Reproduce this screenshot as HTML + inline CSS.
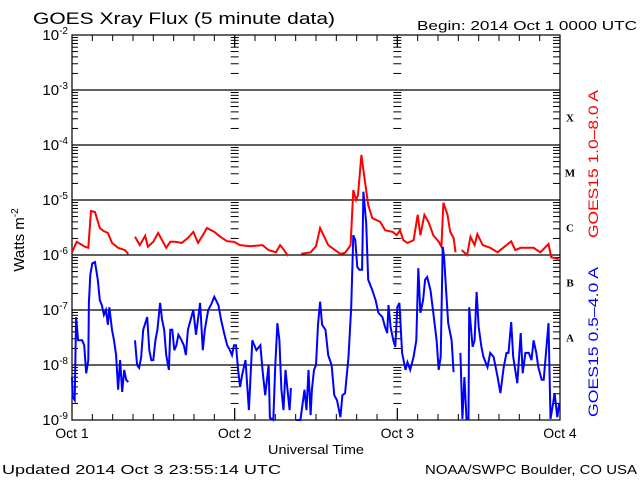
<!DOCTYPE html>
<html><head><meta charset="utf-8"><style>
html,body{margin:0;padding:0;background:#fff;}
svg{display:block;font-family:"Liberation Sans",sans-serif;}
</style></head><body>
<svg id="chart" width="640" height="480" viewBox="0 0 640 480" xmlns="http://www.w3.org/2000/svg">
<rect width="640" height="480" fill="#fff"/>
<text x="33" y="24" font-size="17" fill="#000" textLength="302" lengthAdjust="spacingAndGlyphs">GOES Xray Flux (5 minute data)</text>
<text x="417" y="30" font-size="13" fill="#000" textLength="220" lengthAdjust="spacingAndGlyphs">Begin:  2014 Oct 1 0000 UTC</text>
<text transform="translate(24,240) rotate(-90)" font-size="15" text-anchor="middle" fill="#000">Watts m<tspan font-size="10" dy="-6">-2</tspan></text>
<text x="268" y="454" font-size="13" fill="#000" textLength="96" lengthAdjust="spacingAndGlyphs">Universal Time</text>
<text x="2" y="474" font-size="13" fill="#000" textLength="279" lengthAdjust="spacingAndGlyphs">Updated 2014 Oct  3 23:55:14 UTC</text>
<text x="425" y="474" font-size="13" fill="#000" textLength="212" lengthAdjust="spacingAndGlyphs">NOAA/SWPC Boulder, CO USA</text>
<text transform="translate(598,238) rotate(-90)" font-size="14" fill="#ff0000" textLength="148" lengthAdjust="spacingAndGlyphs">GOES15 1.0–8.0 A</text>
<text transform="translate(598,417) rotate(-90)" font-size="14" fill="#0000ff" textLength="150" lengthAdjust="spacingAndGlyphs">GOES15 0.5–4.0 A</text>
<g id="axes"></g>
<g id="series"></g>
</svg>
<script>
const yDecades = [-2,-3,-4,-5,-6,-7,-8,-9];
const dayLabels = ["Oct 1","Oct 2","Oct 3","Oct 4"];
const flareClasses = ["X","M","C","B","A"];
const flareClassLogs = [-3.5,-4.5,-5.5,-6.5,-7.5];
const redHours = [0,0.7,1.9,2.4,2.8,3.4,4.1,4.6,5.3,5.9,6.8,7.8,8.3,null,9.3,10.0,10.8,11.2,12.0,12.7,13.3,13.9,14.5,15.2,16.2,17.1,17.9,18.6,19.3,19.9,21.0,21.9,22.9,23.9,24.8,26.3,28.1,29.0,30.1,30.7,31.3,31.9,null,33.8,35.2,36.0,36.6,37.8,38.8,39.6,40.3,41.1,41.5,41.9,42.2,42.7,43.1,43.7,44.3,45.5,46.2,47.3,47.9,48.4,48.9,49.5,50.4,51.0,51.4,52.0,52.6,53.3,54.1,54.5,54.8,55.4,55.8,56.3,56.6,null,57.5,58.3,58.8,59.4,59.8,60.6,61.7,62.8,64.8,65.4,66.2,68.1,69.1,70.3,70.7,71.8];
const redLogFlux = [-5.95,-5.76,-5.85,-5.87,-5.2,-5.22,-5.51,-5.56,-5.6,-5.78,-5.87,-5.91,-5.98,null,-5.67,-5.82,-5.65,-5.85,-5.76,-5.6,-5.73,-5.87,-5.76,-5.76,-5.78,-5.69,-5.58,-5.78,-5.64,-5.51,-5.58,-5.67,-5.75,-5.76,-5.82,-5.84,-5.82,-5.91,-5.95,-5.82,-5.91,-6.02,null,-5.98,-5.95,-5.84,-5.51,-5.82,-5.91,-5.98,-5.96,-5.82,-4.82,-5.0,-4.91,-4.18,-4.55,-5.09,-5.33,-5.4,-5.55,-5.58,-5.64,-5.55,-5.73,-5.78,-5.73,-5.27,-5.64,-5.27,-5.4,-5.64,-5.76,-5.85,-5.05,-5.27,-5.58,-5.69,-5.95,null,-5.91,-6.0,-5.67,-5.82,-5.62,-5.82,-5.87,-5.95,-5.75,-5.91,-5.87,-5.87,-5.95,-5.8,-6.04,-6.07];
const blueHours = [0,0.1,0.4,0.6,0.9,1.2,1.5,1.8,2.1,2.4,2.5,2.7,3.0,3.4,3.8,4.1,4.4,4.7,5.0,5.3,5.5,5.9,6.2,6.5,6.8,7.1,7.4,7.7,8.0,8.3,null,9.3,9.6,9.9,10.2,10.5,11.1,11.4,11.7,12.0,12.3,12.6,13.0,13.3,13.6,13.9,14.3,14.5,14.8,15.1,15.4,15.7,16.0,16.5,16.8,17.1,17.9,18.3,18.9,19.3,19.6,20.1,20.5,21.0,21.6,22.0,22.5,22.9,23.3,23.6,23.9,24.2,24.5,24.8,25.1,25.6,26.1,26.6,27.2,27.8,28.1,28.5,29.0,29.2,29.7,30.0,30.3,30.6,30.9,31.2,31.5,31.8,32.1,32.3,null,33.1,33.7,34.3,34.6,34.9,35.2,35.4,35.7,36.0,36.3,36.6,36.9,37.4,37.8,38.3,38.7,39.1,39.6,39.9,40.3,40.8,41.2,41.5,41.8,42.1,42.4,42.8,43.0,43.4,43.7,44.3,44.8,45.2,45.8,46.2,46.5,46.7,47.0,47.4,47.7,48.0,48.3,48.7,49.2,49.5,49.9,50.4,50.8,51.1,51.4,51.8,52.1,52.4,52.9,53.3,53.8,54.1,54.4,54.7,54.9,55.2,55.5,56.0,56.3,null,57.3,57.6,57.9,58.2,58.5,58.6,59.1,59.4,59.7,60.0,60.4,60.7,61.3,61.7,62.2,62.8,63.2,63.7,64.1,64.4,64.8,65.1,65.7,66.2,66.5,66.9,67.4,67.8,68.1,68.5,68.8,69.3,69.6,70.3,70.6,71.0,71.2,71.6,71.9];
const blueLogFlux = [-8.22,-8.58,-8.64,-7.13,-7.55,-7.55,-7.55,-7.64,-8.15,-7.91,-6.87,-6.36,-6.15,-6.13,-6.45,-6.82,-6.91,-7.09,-7.0,-7.27,-6.95,-7.36,-7.55,-7.82,-8.45,-7.91,-8.49,-8.09,-8.27,-8.31,null,-7.55,-8.0,-8.05,-7.87,-7.36,-7.13,-7.73,-7.91,-7.91,-7.55,-7.36,-6.87,-7.18,-7.36,-7.82,-8.09,-7.36,-7.36,-7.73,-7.64,-7.45,-7.51,-7.64,-7.82,-7.36,-7.0,-7.45,-6.87,-7.73,-7.36,-7.0,-6.91,-6.76,-6.91,-7.18,-7.45,-7.64,-7.73,-7.82,-7.64,-7.64,-8.09,-8.4,-8.18,-7.91,-8.82,-7.55,-7.73,-7.64,-8.09,-8.55,-8.0,-8.96,-9.0,-8.0,-7.24,-7.55,-8.45,-8.82,-8.09,-8.45,-8.82,-8.42,null,-9.0,-9.0,-8.45,-8.82,-8.09,-8.91,-8.45,-8.09,-8.0,-7.27,-6.85,-7.27,-7.36,-7.82,-8.0,-8.55,-8.64,-8.95,-8.55,-8.51,-7.85,-6.95,-5.64,-5.73,-6.22,-6.27,-6.27,-4.85,-5.42,-6.45,-6.64,-6.82,-7.05,-7.13,-7.31,-7.42,-6.91,-7.31,-7.55,-7.67,-6.95,-6.87,-7.78,-8.09,-7.95,-8.09,-7.85,-7.55,-6.24,-7.05,-6.82,-6.45,-6.4,-6.64,-7.05,-7.55,-8.09,-7.85,-5.85,-6.04,-6.64,-7.24,-7.55,-8.13,null,-7.78,-8.98,-8.22,-8.98,-8.98,-6.95,-7.67,-7.55,-6.67,-7.31,-7.67,-7.85,-8.04,-7.78,-7.85,-8.22,-8.51,-8.04,-7.78,-7.78,-7.22,-7.85,-8.33,-7.42,-8.15,-7.78,-7.78,-7.91,-7.55,-7.78,-8.04,-8.27,-8.27,-7.24,-8.98,-8.69,-8.51,-8.95,-8.69];

const L=72,R=560,T=35,B=420;
const xScale=h=>L+(R-L)*h/72;
const yScale=v=>T+(B-T)*(-2-v)/7;
const NS="http://www.w3.org/2000/svg";
const axes=document.getElementById('axes');
const series=document.getElementById('series');
function mk(tag,attrs,parent){const e=document.createElementNS(NS,tag);for(const k in attrs)e.setAttribute(k,attrs[k]);parent.appendChild(e);return e;}

yDecades.forEach((d,i)=>{
  const y=yScale(d);
  if(i>0&&i<yDecades.length-1){
    const g=mk('line',{x1:L,x2:R,y1:y,y2:y,stroke:'#000','stroke-width':1.3},axes);
    
    
  }
  const t=mk('text',{x:L-4,y:y+5,'font-size':15,'text-anchor':'end',fill:'#000'},axes);
  
  
  t.innerHTML='10<tspan font-size="10" dy="-6">'+d+'</tspan>';
});
const dayXs=[L,xScale(24),xScale(48),R];
for(let d=-9;d<-2;d++){
  for(let m=2;m<=9;m++){
    const y=yScale(d+Math.log10(m));
    mk('line',{x1:L,x2:L+6,y1:y,y2:y,stroke:'#000'},axes);
    mk('line',{x1:R-7,x2:R,y1:y,y2:y,stroke:'#000'},axes);
    [1,2].forEach(k=>mk('line',{x1:dayXs[k]-4,x2:dayXs[k]+4,y1:y,y2:y,stroke:'#000'},axes));
  }
}
const fr=mk('rect',{x:L,y:T,width:R-L,height:B-T,fill:'none',stroke:'#000','stroke-width':1.2},axes);


[1,2].forEach(k=>{
  mk('line',{x1:dayXs[k],x2:dayXs[k],y1:T,y2:T+12,stroke:'#000'},axes);
  mk('line',{x1:dayXs[k],x2:dayXs[k],y1:B-12,y2:B,stroke:'#000'},axes);
});
for(let h=3;h<72;h+=3){
  const x=xScale(h);const len=h%24===0?12:6;
  mk('line',{x1:x,x2:x,y1:T,y2:T+len,stroke:'#000'},axes);
  mk('line',{x1:x,x2:x,y1:B-len,y2:B,stroke:'#000'},axes);
}
dayLabels.forEach((s,i)=>{
  const t=mk('text',{x:xScale(i*24),y:438,'font-size':14,'text-anchor':'middle',fill:'#000'},axes);
  
  
  t.textContent=s;
});
flareClasses.forEach((c,i)=>{
  const t=mk('text',{x:570,y:yScale(flareClassLogs[i])+4,'font-size':11,'font-weight':'bold','font-family':'Liberation Serif, serif','text-anchor':'middle',fill:'#000'},axes);
  
  
  t.textContent=c;
});
function drawSeries(hours,vals,color,name){
  let d='',pen=false;
  for(let i=0;i<hours.length;i++){
    if(hours[i]===null||vals[i]===null){pen=false;continue;}
    const v=Math.max(-9,Math.min(-2,vals[i]));
    d+=(pen?'L':'M')+xScale(hours[i]).toFixed(1)+' '+yScale(v).toFixed(1);
    pen=true;
  }
  const p=mk('path',{d:d,fill:'none',stroke:color,'stroke-width':2,'stroke-linejoin':'miter'},series);
  
  
}
drawSeries(redHours,redLogFlux,'#ff0000','series-long-channel');
drawSeries(blueHours,blueLogFlux,'#0000ff','series-short-channel');
</script>
</body></html>
